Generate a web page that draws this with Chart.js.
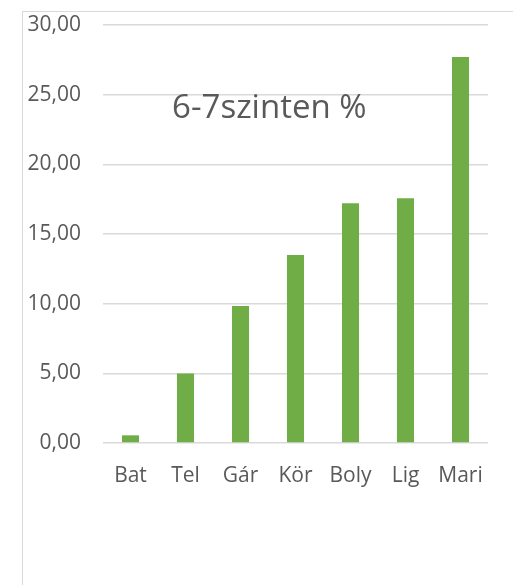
<!DOCTYPE html>
<html>
<head>
<meta charset="utf-8">
<script src="https://cdn.jsdelivr.net/npm/chart.js@4"></script>
<style>
  html, body { margin: 0; padding: 0; background: #fff; overflow: hidden; }
  #frame { position: absolute; left: 22px; top: 11px; width: 600px; height: 700px; border: 1px solid #d9d9d9; }
  #wrap { position: absolute; left: 0; top: 0; width: 513px; height: 585px; }
</style>
</head>
<body>
<div id="frame"></div>
<div id="wrap"><canvas id="chart"></canvas></div>
<script>
const categories = ["Bat", "Tel", "Gár", "Kör", "Boly", "Lig", "Mari"];
const values = [0.55, 4.98, 9.83, 13.5, 17.2, 17.57, 27.7];
const titleText = "6-7szinten %";

// title sits inside the plot area, like the original
const innerTitle = {
  id: "innerTitle",
  afterDraw(chart) {
    const { ctx, chartArea } = chart;
    ctx.save();
    ctx.font = "33px 'Open Sans'";
    ctx.fillStyle = "#595959";
    ctx.textAlign = "center";
    ctx.textBaseline = "alphabetic";
    ctx.fillText(titleText, chartArea.left + chartArea.width * 0.432, 118);
    ctx.restore();
  }
};

new Chart(document.getElementById("chart"), {
  type: "bar",
  data: {
    labels: categories,
    datasets: [{
      data: values,
      backgroundColor: "#70ad47",
      barPercentage: 0.31,
      categoryPercentage: 1
    }]
  },
  options: {
    responsive: true,
    maintainAspectRatio: false,
    animation: false,
    layout: { padding: { left: 0, right: 25, top: 25, bottom: 92 } },
    plugins: { legend: { display: false }, tooltip: { enabled: false } },
    scales: {
      x: {
        grid: { display: false },
        border: { display: false },
        ticks: { color: "#595959", font: { family: "Open Sans", size: 21 }, padding: 12 },
        afterFit(scale) { scale.height = 50; }
      },
      y: {
        min: 0,
        max: 30,
        grid: { color: "#d9d9d9", lineWidth: 1.5, drawTicks: false },
        border: { display: false },
        ticks: {
          stepSize: 5,
          color: "#595959",
          font: { family: "Open Sans", size: 21 },
          padding: 22,
          callback: v => v.toFixed(2).replace(".", ",")
        },
        afterFit(scale) {
          scale.width = 103;
          scale.paddingTop = 0;
          scale.paddingBottom = 0;
        }
      }
    }
  },
  plugins: [innerTitle]
});
</script>
</body>
</html>
